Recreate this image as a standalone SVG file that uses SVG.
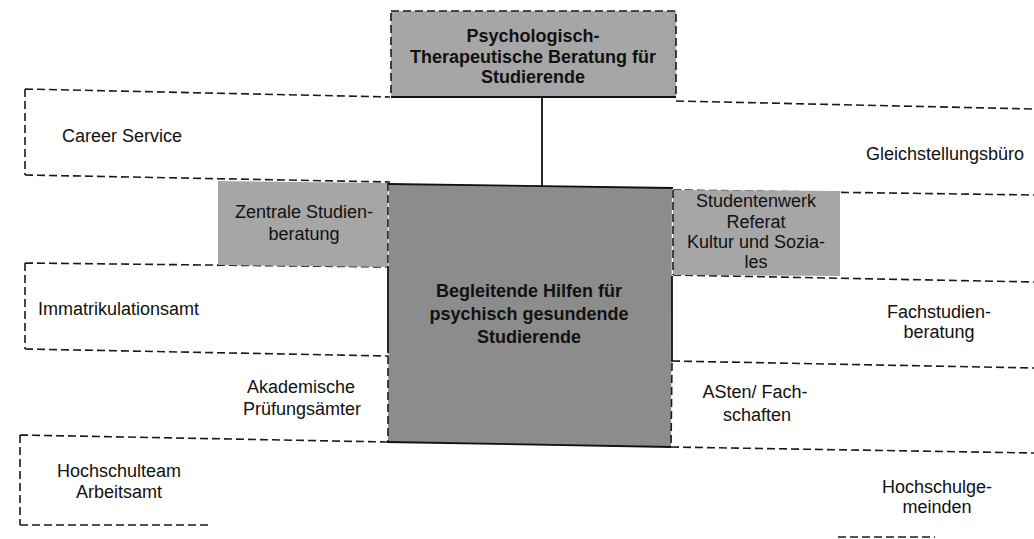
<svg xmlns="http://www.w3.org/2000/svg" width="1034" height="539" viewBox="0 0 1034 539">
<style>
  .dash { fill: none; stroke: #1a1a1a; stroke-width: 1.6; stroke-dasharray: 8 4; }
  .solid { fill: none; stroke: #111; stroke-width: 1.8; }
  .light { fill: #a6a6a6; stroke: none; }
  .dark { fill: #8c8c8c; stroke: none; }
  text { font-family: "Liberation Sans", Arial, sans-serif; font-size: 18px; fill: #111; }
  .b { font-weight: bold; }
  .c { text-anchor: middle; }
  .e { text-anchor: end; }
</style>
<rect width="1034" height="539" fill="#ffffff"/>

<g id="career-service">
  <path class="dash" d="M25,89 L390,97 M25,175 L390,182 M25,89 L25,175"/>
  <text x="62" y="142">Career Service</text>
</g>

<g id="gleichstellungsbuero">
  <path class="dash" d="M676,101 L1034,109 M673,190 L1034,195"/>
  <text class="e" x="1024" y="160">Gleichstellungsbüro</text>
</g>

<g id="immatrikulationsamt">
  <path class="dash" d="M25,263 L388,267 M25,349 L388,356 M25,263 L25,349"/>
  <text x="38" y="315">Immatrikulationsamt</text>
</g>

<g id="hochschulteam">
  <path class="dash" d="M20,435 L387,442 M20,435 L20,525 M20,525 L212,525"/>
  <text class="c" x="119" y="477">Hochschulteam</text>
  <text class="c" x="119" y="498">Arbeitsamt</text>
</g>

<g id="fachstudienberatung">
  <path class="dash" d="M673,275 L1034,282 M672,361 L1034,368"/>
  <text class="c" x="939" y="318">Fachstudien-</text>
  <text class="c" x="939" y="338">beratung</text>
</g>

<g id="asten">
  <path class="dash" d="M671,447 L1034,453"/>
  <text class="c" x="755" y="398">ASten/ Fach-</text>
  <text class="c" x="757" y="421">schaften</text>
</g>

<g id="hochschulgemeinden">
  <path class="dash" d="M838,537 L935,537"/>
  <text class="c" x="937" y="493">Hochschulge-</text>
  <text class="c" x="937" y="513">meinden</text>
</g>

<g id="akademische-pruefungsaemter">
  <text class="c" x="301" y="393">Akademische</text>
  <text class="c" x="302" y="415">Prüfungsämter</text>
</g>

<g id="connectors">
  <path class="solid" d="M542,97 L542,186"/>
</g>

<g id="psychologisch-therapeutische-beratung">
  <rect class="light" x="391" y="11" width="285" height="86"/>
  <rect class="dash" x="391" y="11" width="285" height="86"/>
  <path class="solid" d="M391,97 L676,97"/>
  <text class="c b" x="533" y="42">Psychologisch-</text>
  <text class="c b" x="533" y="63">Therapeutische Beratung für</text>
  <text class="c b" x="533" y="83">Studierende</text>
</g>

<g id="zentrale-studienberatung">
  <polygon class="light" points="218,181 388,183 388,267 218,265"/>
  <path class="dash" d="M388,183 L388,265"/>
  <text class="c" x="304" y="218">Zentrale Studien-</text>
  <text class="c" x="304" y="240">beratung</text>
</g>

<g id="studentenwerk">
  <polygon class="light" points="673,190 840,191 840,276 673,275"/>
  <path class="dash" d="M673,190 L673,275"/>
  <text class="c" x="756" y="207">Studentenwerk</text>
  <text class="c" x="756" y="228">Referat</text>
  <text class="c" x="756" y="248">Kultur und Sozia-</text>
  <text class="c" x="756" y="268">les</text>
</g>

<g id="begleitende-hilfen">
  <polygon class="dark" points="389,184 672,188 671,447 388,442"/>
  <path class="solid" d="M388,184 L673,188 M387,442 L671,447 M388,266 L388,353 M672,276 L672,362"/>
  <path class="dash" d="M388,356 L388,442 M672,363 L671,447"/>
  <text class="c b" x="529" y="297">Begleitende Hilfen für</text>
  <text class="c b" x="529" y="320">psychisch gesundende</text>
  <text class="c b" x="529" y="343">Studierende</text>
</g>
</svg>
